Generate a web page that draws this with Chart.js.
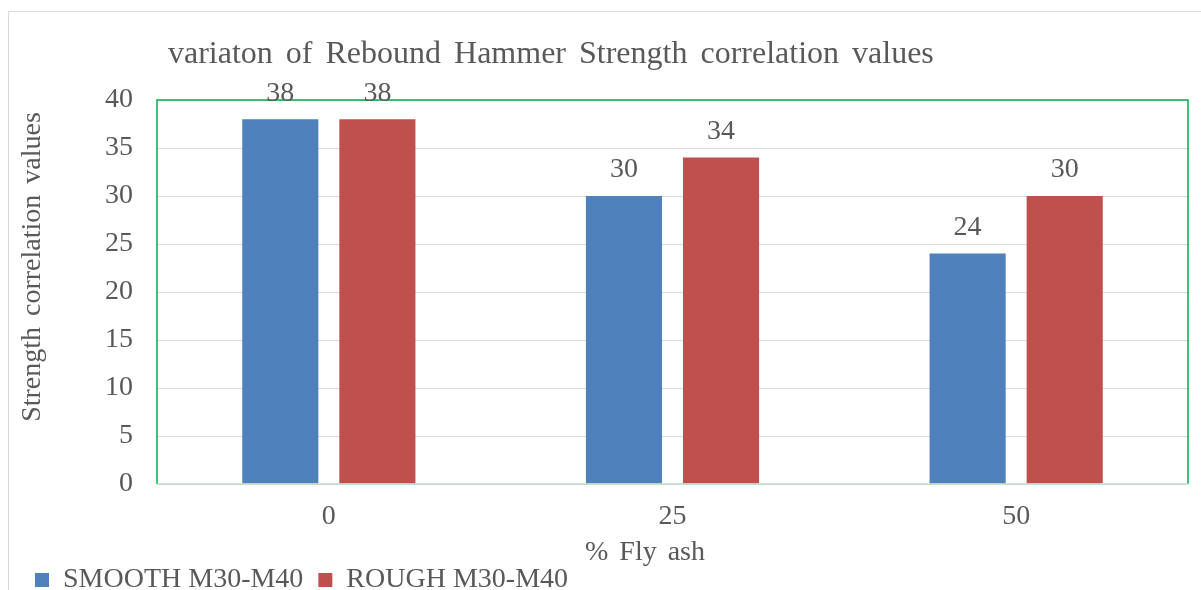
<!DOCTYPE html>
<html>
<head>
<meta charset="utf-8">
<script src="https://cdn.jsdelivr.net/npm/chart.js@4.4.1/dist/chart.umd.min.js"></script>
<style>
  html, body { margin: 0; padding: 0; background: #fff; }
  #wrap { width: 1201px; height: 590px; position: relative; overflow: hidden; }
</style>
</head>
<body>
<div id="wrap"><canvas id="myChart" width="1201" height="590"></canvas></div>
<script>
// chart data
const categories = ['0', '25', '50'];
const smoothValues = [38, 30, 24];
const roughValues = [38, 34, 30];
const yTicks = [0, 5, 10, 15, 20, 25, 30, 35, 40];

const chartTitle = 'variaton of Rebound Hammer Strength correlation values';
const yTitle = 'Strength correlation values';
const xTitle = '% Fly ash';

const FONT = '"Liberation Serif", "Times New Roman", serif';
const TEXT = '#595959';

// titles, frame and value labels
const decorations = {
    id: 'decorations',
    beforeDraw(chart) {
        const ctx = chart.ctx;
        ctx.save();
        ctx.strokeStyle = '#d9d9d9';
        ctx.lineWidth = 1;
        ctx.beginPath();
        ctx.moveTo(1201, 11.5);
        ctx.lineTo(8.5, 11.5);
        ctx.lineTo(8.5, 590);
        ctx.stroke();
        ctx.restore();
    },
    afterDatasetsDraw(chart) {
        const ctx = chart.ctx;
        const a = chart.chartArea;
        ctx.save();
        // plot frame
        ctx.lineWidth = 1.5;
        ctx.strokeStyle = '#00b050';
        ctx.beginPath();
        ctx.moveTo(a.left, a.bottom);
        ctx.lineTo(a.left, a.top);
        ctx.lineTo(a.right, a.top);
        ctx.lineTo(a.right, a.bottom);
        ctx.stroke();
        ctx.strokeStyle = '#c0dccb';
        ctx.beginPath();
        ctx.moveTo(a.left, a.bottom);
        ctx.lineTo(a.right, a.bottom);
        ctx.stroke();

        // value labels
        ctx.fillStyle = TEXT;
        ctx.font = '28px ' + FONT;
        ctx.textAlign = 'center';
        ctx.textBaseline = 'middle';
        chart.data.datasets.forEach((ds, i) => {
            chart.getDatasetMeta(i).data.forEach((bar, j) => {
                ctx.fillText(String(ds.data[j]), bar.x, bar.y - 26);
            });
        });

        // chart title
        ctx.font = '32px ' + FONT;
        ctx.textAlign = 'left';
        ctx.wordSpacing = '5px';
        ctx.fillText(chartTitle, 168, 55);

        // x axis title
        ctx.font = '28px ' + FONT;
        ctx.textAlign = 'center';
        ctx.wordSpacing = '4px';
        ctx.fillText(xTitle, 645, 553);

        // y axis title
        ctx.translate(33, 267);
        ctx.rotate(-Math.PI / 2);
        ctx.fillText(yTitle, 0, 0);
        ctx.restore();
    }
};

const ctx = document.getElementById('myChart').getContext('2d');
const myChart = new Chart(ctx, {
    type: 'bar',
    data: {
        labels: categories,
        datasets: [{
            label: 'SMOOTH M30-M40',
            data: smoothValues,
            backgroundColor: '#4f81bd',
            borderWidth: 0
        }, {
            label: 'ROUGH M30-M40',
            data: roughValues,
            backgroundColor: '#c0504d',
            borderWidth: 0
        }]
    },
    options: {
        responsive: false,
        animation: false,
        categoryPercentage: 0.565,
        barPercentage: 0.784,
        layout: {
            padding: { left: 20, top: 100, right: 13, bottom: -14 }
        },
        plugins: {
            title: { display: false },
            tooltip: { enabled: false },
            legend: {
                position: 'bottom',
                align: 'start',
                labels: {
                    boxWidth: 14,
                    boxHeight: 14,
                    padding: 15,
                    color: TEXT,
                    font: { family: FONT, size: 28 }
                }
            }
        },
        scales: {
            x: {
                grid: { display: false, drawTicks: false },
                border: { display: false },
                ticks: {
                    color: TEXT,
                    padding: 16,
                    font: { family: FONT, size: 28 }
                },
                afterFit(scale) { scale.height = 67; }
            },
            y: {
                min: 0,
                max: 40,
                grid: { color: '#d9d9d9', drawTicks: false },
                border: { display: false },
                afterBuildTicks(scale) {
                    scale.ticks = yTicks.map(v => ({ value: v }));
                },
                ticks: {
                    color: TEXT,
                    padding: 24,
                    font: { family: FONT, size: 28 }
                },
                afterFit(scale) { scale.width = 137; }
            }
        }
    },
    plugins: [decorations]
});
</script>
</body>
</html>
